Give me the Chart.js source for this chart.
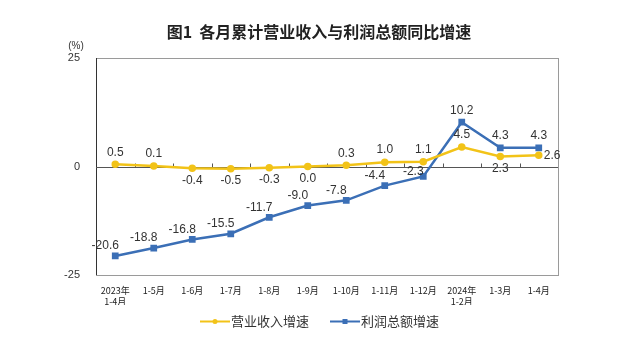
<!DOCTYPE html>
<html>
<head>
<meta charset="utf-8">
<script src="https://cdn.jsdelivr.net/npm/chart.js@4/dist/chart.umd.min.js"></script>
<style>
  html, body { margin: 0; padding: 0; background: #fff; }
  #wrap { width: 640px; height: 352px; position: relative; }
</style>
</head>
<body>
<div id="wrap"><canvas id="chart"></canvas></div>
<script>
// Data
const categories = [
    ['2023年', '1-4月'], '1-5月', '1-6月', '1-7月', '1-8月', '1-9月',
    '1-10月', '1-11月', '1-12月', ['2024年', '1-2月'], '1-3月', '1-4月'
];
const revenueGrowth = [0.5, 0.1, -0.4, -0.5, -0.3, 0.0, 0.3, 1.0, 1.1, 4.5, 2.3, 2.6];
const profitGrowth = [-20.6, -18.8, -16.8, -15.5, -11.7, -9.0, -7.8, -4.4, -2.3, 10.2, 4.3, 4.3];
const yTicks = [-25, 0, 25];
const chartTitle = '图1  各月累计营业收入与利润总额同比增速';

const YELLOW = '#F2C318';
const BLUE = '#3B6FB6';

// where each value label sits relative to its point
const revenueLabelPos = ['top', 'top', 'bottom', 'bottom', 'bottom', 'bottom', 'top', 'top', 'top', 'top', 'bottom', 'right'];
const profitLabelPos = ['topleft', 'topleft', 'topleft', 'topleft', 'topleft', 'topleft', 'topleft', 'topleft', 'left', 'top', 'top', 'top'];

const framePlugin = {
    id: 'frame',
    beforeDatasetsDraw(chart) {
        const { ctx, chartArea: a, scales } = chart;
        ctx.save();
        ctx.strokeStyle = '#9a9a9a';
        ctx.lineWidth = 1;
        ctx.strokeRect(a.left + 0.5, a.top + 0.5, a.right - a.left, a.bottom - a.top);
        ctx.strokeStyle = '#333';
        ctx.beginPath();
        ctx.moveTo(a.left + 0.5, a.top); ctx.lineTo(a.left + 0.5, a.bottom);
        ctx.stroke();
        // zero line with small ticks between categories
        const y0 = Math.round(scales.y.getPixelForValue(0)) + 0.5;
        ctx.strokeStyle = '#555';
        ctx.beginPath();
        ctx.moveTo(a.left, y0); ctx.lineTo(a.right, y0);
        const step = scales.x.getPixelForValue(1) - scales.x.getPixelForValue(0);
        for (let i = 1; i < categories.length; i++) {
            const x = Math.round(scales.x.getPixelForValue(i) - step / 2) + 0.5;
            ctx.moveTo(x, y0); ctx.lineTo(x, y0 - 4);
        }
        ctx.stroke();
        // title and unit label
        ctx.fillStyle = '#222';
        ctx.font = 'bold 16px "Noto Sans CJK SC", sans-serif';
        ctx.textAlign = 'center';
        ctx.textBaseline = 'middle';
        ctx.fillText(chartTitle, 319, 32);
        ctx.fillStyle = '#333';
        ctx.font = '10px "Liberation Sans", Arial, sans-serif';
        ctx.fillText('(%)', 76, 46);
        ctx.restore();
    },
    afterDatasetsDraw(chart) {
        const { ctx } = chart;
        ctx.save();
        ctx.font = '12px "Liberation Sans", Arial, sans-serif';
        ctx.fillStyle = '#333';
        const placements = [revenueLabelPos, profitLabelPos];
        chart.data.datasets.forEach((ds, di) => {
            const meta = chart.getDatasetMeta(di);
            meta.data.forEach((pt, i) => {
                const txt = ds.data[i].toFixed(1);
                let x = pt.x, y = pt.y;
                const p = placements[di][i];
                ctx.textAlign = 'center';
                ctx.textBaseline = 'middle';
                if (p === 'top') y -= 12;
                else if (p === 'bottom') y += 12;
                else if (p === 'right') { x += 5; ctx.textAlign = 'left'; }
                else if (p === 'topleft') { x -= 10; y -= 10; }
                else if (p === 'left') { x -= 10; y -= 5; }
                ctx.fillText(txt, x, y);
            });
        });
        ctx.restore();
    },
    afterDraw(chart) {
        // legend: short line with a marker, then the series name
        const { ctx } = chart;
        const items = [
            { x: 200, square: false },
            { x: 330, square: true }
        ];
        const y = 321.5;
        ctx.save();
        chart.data.datasets.forEach((ds, i) => {
            const it = items[i];
            ctx.strokeStyle = ds.borderColor;
            ctx.fillStyle = ds.borderColor;
            ctx.lineWidth = 2;
            ctx.beginPath();
            ctx.moveTo(it.x, y); ctx.lineTo(it.x + 30, y);
            ctx.stroke();
            if (it.square) ctx.fillRect(it.x + 12.5, y - 2.5, 5, 5);
            else { ctx.beginPath(); ctx.arc(it.x + 15, y, 2.5, 0, Math.PI * 2); ctx.fill(); }
            ctx.fillStyle = '#333';
            ctx.font = '13px "Noto Sans CJK SC", sans-serif';
            ctx.textAlign = 'left';
            ctx.textBaseline = 'middle';
            ctx.fillText(ds.label, it.x + 31, y);
        });
        ctx.restore();
    }
};

const ctx = document.getElementById('chart').getContext('2d');
new Chart(ctx, {
    type: 'line',
    data: {
        labels: categories,
        datasets: [
            {
                label: '营业收入增速',
                data: revenueGrowth,
                borderColor: YELLOW,
                backgroundColor: YELLOW,
                borderWidth: 2.5,
                pointRadius: 2.5,
                pointStyle: 'circle',
                tension: 0
            },
            {
                label: '利润总额增速',
                data: profitGrowth,
                borderColor: BLUE,
                backgroundColor: BLUE,
                borderWidth: 2.5,
                pointRadius: 3,
                pointStyle: 'rect',
                tension: 0
            }
        ]
    },
    options: {
        responsive: true,
        maintainAspectRatio: false,
        animation: false,
        layout: { padding: { left: 60, right: 82, top: 58, bottom: 47 } },
        plugins: {
            title: { display: false },
            legend: { display: false },
            tooltip: { enabled: false }
        },
        scales: {
            x: {
                offset: true,
                grid: { display: false },
                border: { display: false },
                ticks: {
                    color: '#222',
                    font: { family: '"Noto Sans CJK SC", sans-serif', size: 9 },
                    maxRotation: 0,
                    autoSkip: false,
                    padding: 2
                },
                afterFit(scale) { scale.height = 30; }
            },
            y: {
                min: -25,
                max: 25,
                afterBuildTicks(scale) { scale.ticks = yTicks.map(v => ({ value: v })); },
                grid: { display: false },
                border: { display: false },
                ticks: {
                    color: '#333',
                    font: { family: '"Liberation Sans", Arial, sans-serif', size: 11 },
                    padding: 8
                },
                afterFit(scale) { scale.width = 36; }
            }
        }
    },
    plugins: [framePlugin]
});
</script>
</body>
</html>
